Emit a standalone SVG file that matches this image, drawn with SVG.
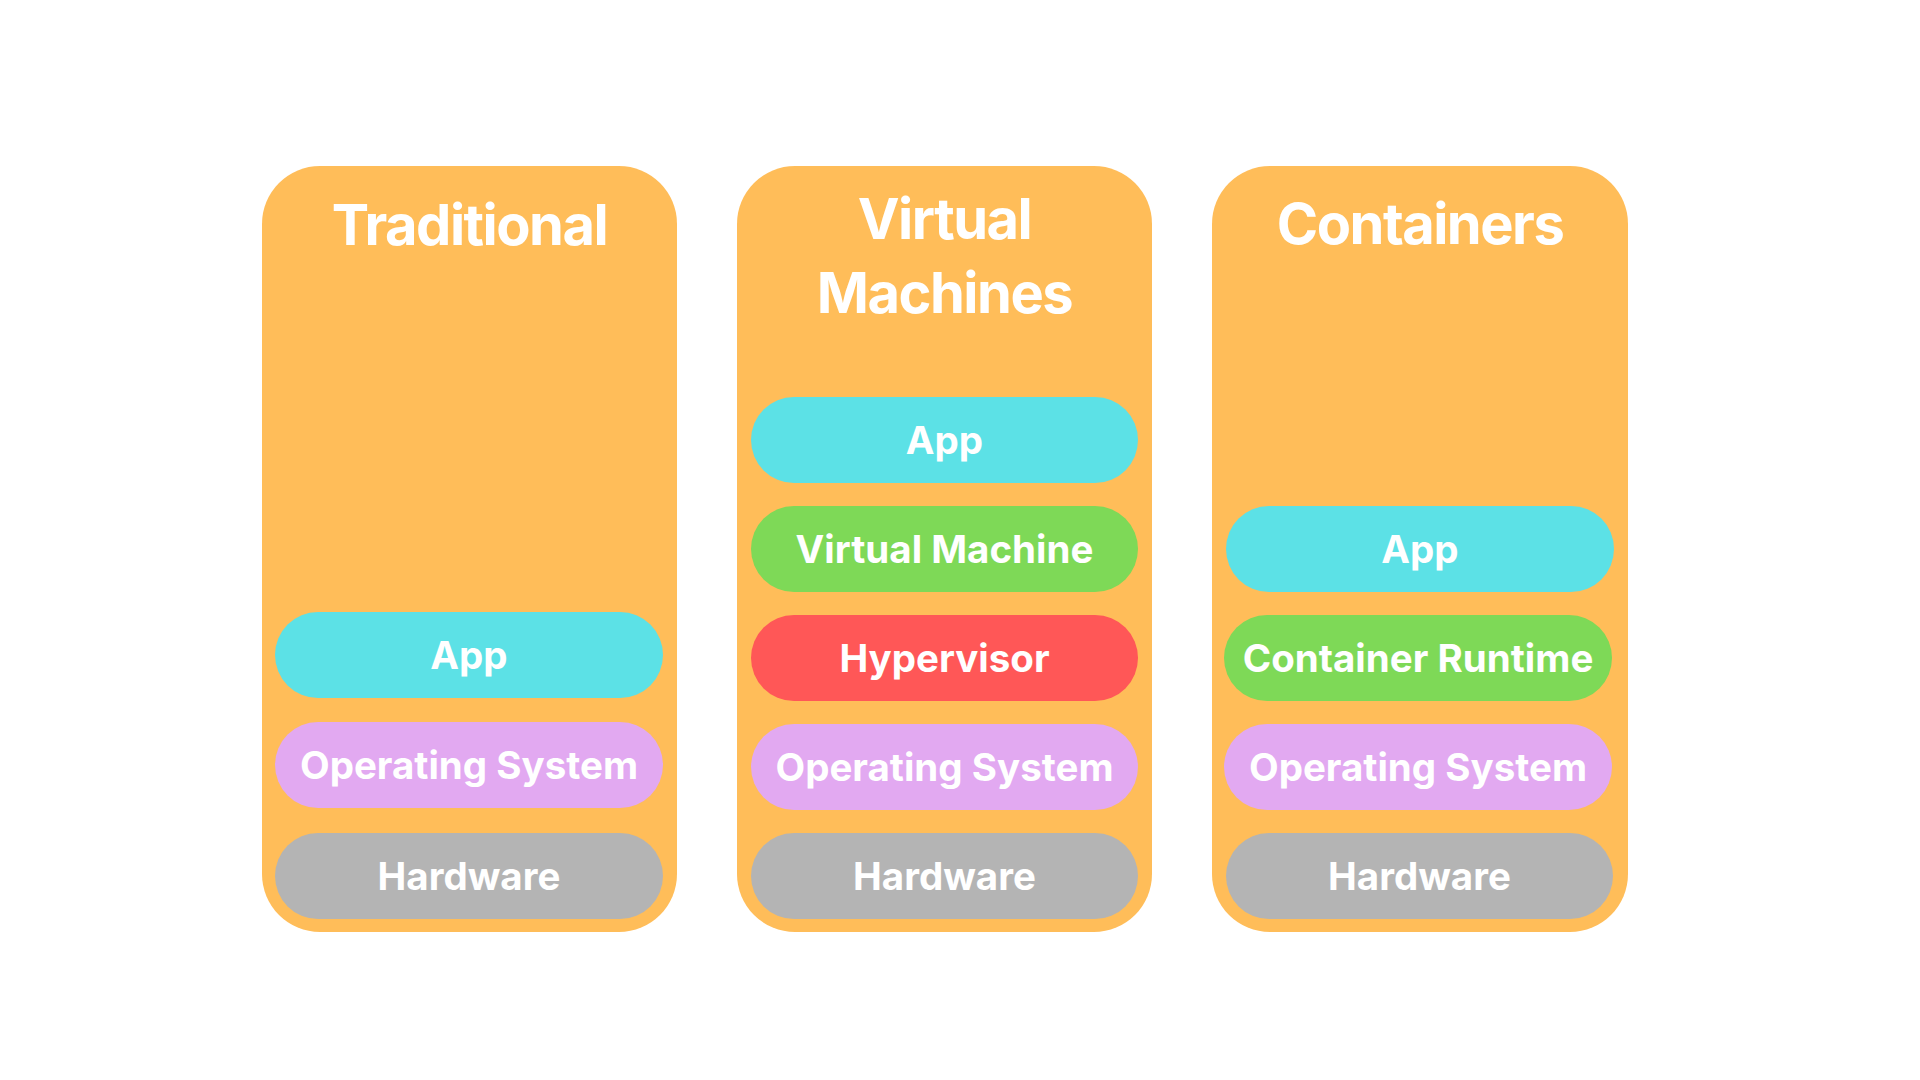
<svg xmlns="http://www.w3.org/2000/svg" width="1920" height="1080" viewBox="0 0 1920 1080">
<style>
.panel{fill:#FFBD59}
.title{font-family:Inter,"Liberation Sans",sans-serif;font-weight:700;font-size:56px;letter-spacing:-1.5px;fill:#FFFFFF;text-anchor:middle}
.lbl{font-family:Inter,"Liberation Sans",sans-serif;font-weight:700;font-size:38.5px;fill:#FFFFFF;text-anchor:middle}
.app{fill:#5CE1E6}
.os{fill:#E2A9F1}
.hw{fill:#B4B4B4}
.vm{fill:#7ED957}
.hyp{fill:#FF5757}
</style>
<rect width="1920" height="1080" fill="#FFFFFF"/>
<g id="traditional">
<rect class="panel" x="262" y="166" width="415" height="766" rx="58"/>
<text class="title" x="469.5" y="245">Traditional</text>
<g id="trad-app"><rect class="app" x="275" y="612" width="388" height="86" rx="43"/><text class="lbl" x="469" y="669">App</text></g>
<g id="trad-os"><rect class="os" x="275" y="722" width="388" height="86" rx="43"/><text class="lbl" x="469" y="779">Operating System</text></g>
<g id="trad-hw"><rect class="hw" x="275" y="833" width="388" height="86" rx="43"/><text class="lbl" x="469" y="890">Hardware</text></g>
</g>
<g id="virtual-machines">
<rect class="panel" x="737" y="166" width="415" height="766" rx="58"/>
<text class="title" x="944.5" y="239">Virtual</text>
<text class="title" x="944.5" y="313">Machines</text>
<g id="vm-app"><rect class="app" x="751" y="397" width="387" height="86" rx="43"/><text class="lbl" x="944.5" y="454">App</text></g>
<g id="vm-vm"><rect class="vm" x="751" y="506" width="387" height="86" rx="43"/><text class="lbl" x="944.5" y="563">Virtual Machine</text></g>
<g id="vm-hyp"><rect class="hyp" x="751" y="615" width="387" height="86" rx="43"/><text class="lbl" x="944.5" y="672">Hypervisor</text></g>
<g id="vm-os"><rect class="os" x="751" y="724" width="387" height="86" rx="43"/><text class="lbl" x="944.5" y="781">Operating System</text></g>
<g id="vm-hw"><rect class="hw" x="751" y="833" width="387" height="86" rx="43"/><text class="lbl" x="944.5" y="890">Hardware</text></g>
</g>
<g id="containers">
<rect class="panel" x="1212" y="166" width="416" height="766" rx="58"/>
<text class="title" x="1420" y="244">Containers</text>
<g id="ct-app"><rect class="app" x="1226" y="506" width="388" height="86" rx="43"/><text class="lbl" x="1420" y="563">App</text></g>
<g id="ct-rt"><rect class="vm" x="1224" y="615" width="388" height="86" rx="43"/><text class="lbl" x="1418" y="672">Container Runtime</text></g>
<g id="ct-os"><rect class="os" x="1224" y="724" width="388" height="86" rx="43"/><text class="lbl" x="1418" y="781">Operating System</text></g>
<g id="ct-hw"><rect class="hw" x="1226" y="833" width="387" height="86" rx="43"/><text class="lbl" x="1419.5" y="890">Hardware</text></g>
</g>
<g id="connectors"/>
</svg>
